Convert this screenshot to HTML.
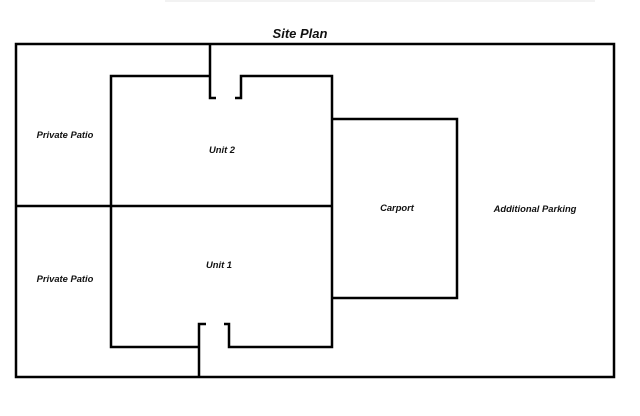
<!DOCTYPE html>
<html><head><style>
body{margin:0;background:#fff;width:640px;height:411px;overflow:hidden}
svg text{font-family:"Liberation Sans",sans-serif;font-style:italic;font-weight:bold;fill:#111}
</style></head><body>
<svg width="640" height="411" viewBox="0 0 640 411">
<rect x="165" y="0" width="430" height="2" fill="#f2f2f2"/>
<text x="300" y="38" font-size="13" text-anchor="middle">Site Plan</text>
<g fill="none" stroke="#000" stroke-width="2.5">
<rect x="16" y="44" width="598" height="333"/>
<polyline points="111,206 111,76 210,76"/>
<polyline points="210,44 210,98 216,98"/>
<polyline points="235,98 241,98 241,76 332,76 332,347 229,347 229,324 224,324"/>
<polyline points="206,324 199,324 199,377"/>
<polyline points="199,347 111,347 111,206"/>
<line x1="16" y1="206" x2="332" y2="206"/>
<polyline points="332,119 457,119 457,298 332,298"/>
</g>
<g font-size="9.4" text-anchor="middle">
<text x="65" y="138">Private Patio</text>
<text x="65" y="282">Private Patio</text>
<text x="222" y="153">Unit 2</text>
<text x="219" y="268">Unit 1</text>
<text x="397" y="211">Carport</text>
<text x="535" y="212">Additional Parking</text>
</g>
</svg>
</body></html>
